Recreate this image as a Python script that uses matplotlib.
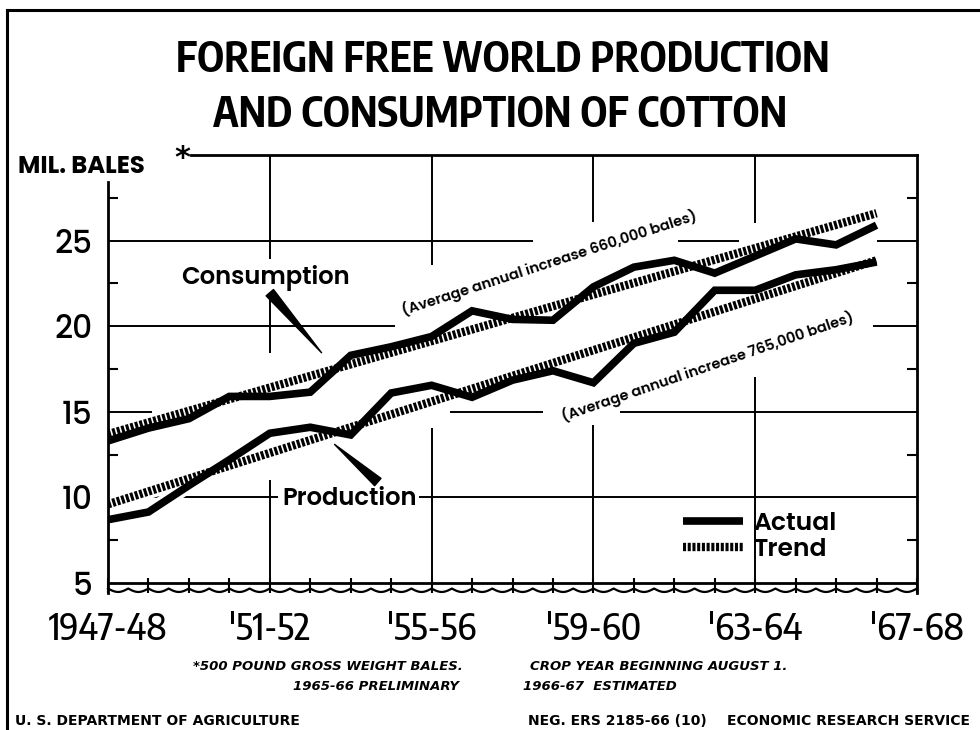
import numpy as np
import matplotlib
matplotlib.use("Agg")
import matplotlib.pyplot as plt
from matplotlib.lines import Line2D

plt.rcParams['lines.scale_dashes'] = False
plt.rcParams['font.family'] = ['DejaVu Sans']

# ---------------- data ----------------
years = list(range(1947, 1967))
consumption = [13.3, 14.05, 14.6, 15.9, 15.9, 16.15, 18.3, 18.8, 19.4, 20.9,
               20.4, 20.35, 22.3, 23.45, 23.85, 23.1, 24.1, 25.1, 24.75, 25.9]
production = [8.7, 9.15, 10.7, 12.2, 13.75, 14.1, 13.65, 16.1, 16.55, 15.85,
              16.85, 17.4, 16.7, 19.0, 19.65, 22.1, 22.1, 23.0, 23.3, 23.75]
trend_years = [1947, 1966]
consumption_trend = [13.7, 26.6]
production_trend = [9.6, 23.85]

xtick_years = [1947, 1951, 1955, 1959, 1963, 1967]
xtick_labels = ['1947-48', "'51-52", "'55-56", "'59-60", "'63-64", "'67-68"]
ytick_values = [5, 10, 15, 20, 25]
ytick_labels = ['5', '10', '15', '20', '25']

title_lines = ['FOREIGN FREE WORLD PRODUCTION', 'AND CONSUMPTION OF COTTON']
consumption_note = '(Average annual increase 660,000 bales)'
production_note = '(Average annual increase 765,000 bales)'

# ---------------- fonts ----------------
COND = ['Encode Sans Condensed', 'DejaVu Sans']
GEO = ['Poppins', 'DejaVu Sans']

# ---------------- layout ----------------
W, H = 980, 730
fig = plt.figure(figsize=(W / 100, H / 100), dpi=100)
fig.patch.set_facecolor('white')
AX_L, AX_R, AX_T, AX_B = 108, 917, 155, 593
ax = fig.add_axes([AX_L / W, (H - AX_B) / H, (AX_R - AX_L) / W, (AX_B - AX_T) / H])
X0, X1, Y0, Y1 = 1947, 1967, 4.42, 30
ax.set_xlim(X0, X1)
ax.set_ylim(Y0, Y1)

# outer border (left and top)
fig.add_artist(Line2D([7 / W, 7 / W], [0, 1 - 10 / H], color='black', lw=2.2,
                      transform=fig.transFigure))
fig.add_artist(Line2D([7 / W, 1], [1 - 10 / H, 1 - 10 / H], color='black', lw=2.2,
                      transform=fig.transFigure))

# frame
for s in ['top', 'left', 'bottom']:
    ax.spines[s].set_visible(False)
ax.spines['right'].set_linewidth(2)
ax.plot([X0, X0], [Y0, 28.45], color='black', lw=2, clip_on=False, zorder=5)
ax.plot([1949.06, X1], [Y1, Y1], color='black', lw=2, clip_on=False, zorder=5)
ax.axhline(5, color='black', lw=2, zorder=5)
xs = np.linspace(X0, X1, 2001)
ax.plot(xs, 4.68 - 0.2 * np.abs(np.sin(2 * np.pi * (xs - X0))), color='black',
        lw=1.6, clip_on=False, zorder=5)

# broken grid lines (draftsman style)
hgrid = [(25, 1947, 1957.5), (25, 1961.1, 1962.6), (25, 1966.0, 1967),
         (20, 1947, 1954.1), (20, 1965.9, 1967),
         (15, 1947, 1948.1), (15, 1955.45, 1957.75), (15, 1959.66, 1967),
         (10, 1947, 1951.2), (10, 1954.7, 1967)]
vgrid = [(1951, Y0, 11.0), (1951, 18.45, 21.96), (1951, 23.9, Y1),
         (1955, Y0, 14.05), (1955, 23.56, Y1),
         (1959, Y0, 14.22), (1959, 26.07, Y1),
         (1963, Y0, 17.03), (1963, 26.0, Y1)]
for yv, a, b in hgrid:
    ax.plot([a, b], [yv, yv], color='black', lw=1.4, zorder=2, solid_capstyle='butt')
for xv, a, b in vgrid:
    ax.plot([xv, xv], [a, b], color='black', lw=1.4, zorder=2, solid_capstyle='butt')

# ticks
ax.set_xticks(xtick_years)
ax.set_xticklabels(xtick_labels, fontsize=26.5, family=COND, fontweight=500)
ax.set_xticks(range(X0, X1 + 1), minor=True)
ax.tick_params(axis='x', which='both', direction='in', length=11, width=1.5,
               bottom=True, top=False, pad=13)
ax.set_yticks(ytick_values)
ax.set_yticklabels(ytick_labels, fontsize=22.5, family=GEO, fontweight=500)
ax.set_yticks(np.arange(7.5, 30, 5), minor=True)
ax.tick_params(axis='y', which='major', length=0, pad=11)
ax.tick_params(axis='y', which='minor', direction='in', length=7, width=1.5,
               left=True, right=True)

# data: white halos first, then lines
for xv, yv, w in [(years, consumption, 5.5), (years, production, 5.5),
                  (trend_years, consumption_trend, 6), (trend_years, production_trend, 6)]:
    ax.plot(xv, yv, color='white', lw=w + 5, zorder=2.5, solid_capstyle='butt')
l_act, = ax.plot(years, consumption, color='black', lw=5.5, zorder=3,
                 solid_joinstyle='miter', solid_capstyle='butt')
ax.plot(years, production, color='black', lw=5.5, zorder=3,
        solid_joinstyle='miter', solid_capstyle='butt')
l_tr, = ax.plot(trend_years, consumption_trend, color='black', lw=6, zorder=4,
                dashes=(2.2, 1.2), dash_capstyle='butt')
ax.plot(trend_years, production_trend, color='black', lw=6, zorder=4,
        dashes=(2.2, 1.2), dash_capstyle='butt')

# labels with pointers
ax.text(1948.81, 22.47, 'Consumption', fontsize=17.5, fontweight=600, family=GEO,
        ha='left', va='baseline', zorder=6)
ax.annotate('', xy=(1952.28, 18.45), xytext=(1951.0, 21.96),
            arrowprops=dict(arrowstyle='wedge,tail_width=0.35', color='black',
                            mutation_scale=20, shrinkA=0, shrinkB=0), zorder=6)
ax.text(1951.30, 9.56, 'Production', fontsize=17.5, fontweight=600, family=GEO,
        ha='left', va='baseline', zorder=6)
ax.annotate('', xy=(1952.6, 13.1), xytext=(1953.67, 10.9),
            arrowprops=dict(arrowstyle='wedge,tail_width=0.35', color='black',
                            mutation_scale=20, shrinkA=0, shrinkB=0), zorder=6)

ax.text(1957.9, 23.7, consumption_note, fontsize=10.5, fontweight=600, family=GEO,
        rotation=18, rotation_mode='anchor', ha='center', va='center', zorder=6)
ax.text(1961.82, 17.65, production_note, fontsize=10.5, fontweight=600, family=GEO,
        rotation=19, rotation_mode='anchor', ha='center', va='center', zorder=6)

# legend
leg = ax.legend([l_act, l_tr], ['Actual', 'Trend'], loc='upper left',
                bbox_to_anchor=(0.711, 0.186), frameon=False, borderpad=0,
                borderaxespad=0, handlelength=2.4, handletextpad=0.4,
                labelspacing=0.05, prop=dict(family=GEO, size=18, weight=600))

# titles and notes
fig.text(503 / W, 1 - 72 / H, title_lines[0], fontsize=29.5, fontweight='bold',
         family=COND, ha='center', va='baseline')
fig.text(500 / W, 1 - 127 / H, title_lines[1], fontsize=29.5, fontweight='bold',
         family=COND, ha='center', va='baseline')
fig.text(18 / W, 1 - 173 / H, 'MIL. BALES', fontsize=17.5, fontweight='bold',
         family=GEO, ha='left', va='baseline')
fig.text(174 / W, 1 - 167 / H, '*', fontsize=22, fontweight='bold',
         ha='left', va='baseline')

foot = dict(fontsize=9.5, fontweight='bold', style='italic', va='baseline')
fig.text(193 / W, 1 - 670 / H, '*500 POUND GROSS WEIGHT BALES.', ha='left', **foot)
fig.text(293 / W, 1 - 690 / H, '1965-66 PRELIMINARY', ha='left', **foot)
fig.text(530 / W, 1 - 670 / H, 'CROP YEAR BEGINNING AUGUST 1.', ha='left', **foot)
fig.text(523 / W, 1 - 690 / H, '1966-67  ESTIMATED', ha='left', **foot)
bot = dict(fontsize=10, fontweight='bold', va='baseline')
fig.text(15 / W, 1 - 725 / H, 'U. S. DEPARTMENT OF AGRICULTURE', ha='left', **bot)
fig.text(528 / W, 1 - 725 / H, 'NEG. ERS 2185-66 (10)', ha='left', **bot)
fig.text(727 / W, 1 - 725 / H, 'ECONOMIC RESEARCH SERVICE', ha='left', **bot)

fig.savefig('out.png', dpi=100, facecolor='white')
